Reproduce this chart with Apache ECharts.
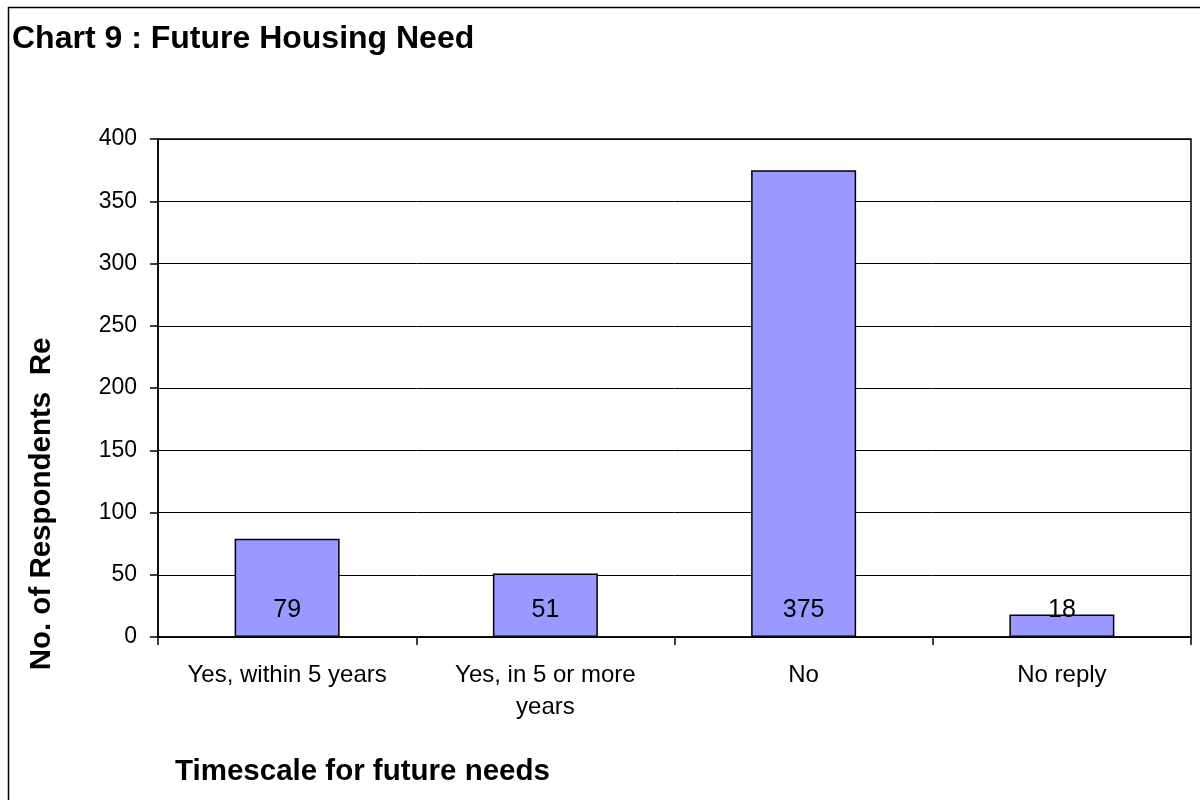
<!DOCTYPE html>
<html>
<head>
<meta charset="utf-8">
<style>
  html, body { margin: 0; padding: 0; background: #fff; }
  #chart { width: 1200px; height: 800px; }
</style>
<script src="https://cdn.jsdelivr.net/npm/echarts@6/dist/echarts.min.js"></script>
</head>
<body>
<div id="chart"></div>
<script>
// Survey responses: when will the household need housing?
const categories = ['Yes, within 5 years', 'Yes, in 5 or more\nyears', 'No', 'No reply'];
const respondents = [79, 51, 375, 18];
const yTicks = [0, 50, 100, 150, 200, 250, 300, 350, 400];

const font = '"Liberation Sans", Arial, sans-serif';
const chart = echarts.init(document.getElementById('chart'));

chart.setOption({
  animation: false,
  backgroundColor: '#ffffff',
  title: {
    text: 'Chart 9 : Future Housing Need',
    left: 7, top: 18,
    textStyle: { fontFamily: font, fontSize: 32, fontWeight: 'bold', color: '#000' }
  },
  graphic: [
    { // outer frame
      type: 'rect', silent: true, z: -1,
      shape: { x: 8.5, y: 7.5, width: 1300, height: 900 },
      style: { fill: 'none', stroke: '#000', lineWidth: 1.5 }
    },
    {
      type: 'text', x: 42, y: 504, rotation: Math.PI / 2,
      style: {
        text: 'No. of Respondents  Re', fontFamily: font, fontSize: 29.5, fontWeight: 'bold',
        fill: '#000', align: 'center', verticalAlign: 'middle'
      }
    },
    {
      type: 'text', x: 175, y: 772,
      style: {
        text: 'Timescale for future needs', fontFamily: font, fontSize: 29.5, fontWeight: 'bold',
        fill: '#000', align: 'left', verticalAlign: 'middle'
      }
    }
  ],
  grid: {
    left: 158, top: 139, right: 9, bottom: 163,
    show: true, borderColor: '#000', borderWidth: 1.5, backgroundColor: 'transparent'
  },
  xAxis: {
    type: 'category',
    data: categories,
    axisLine: { lineStyle: { color: '#000', width: 1.5 } },
    axisTick: { show: true, length: 8, lineStyle: { color: '#000', width: 1.5 } },
    axisLabel: { color: '#000', fontFamily: font, fontSize: 24, margin: 22, lineHeight: 32, interval: 0 }
  },
  yAxis: {
    type: 'value',
    min: yTicks[0], max: yTicks[yTicks.length - 1], interval: 50,
    axisLine: { show: true, lineStyle: { color: '#000', width: 1.5 } },
    axisTick: { show: true, length: 8, lineStyle: { color: '#000', width: 1.5 } },
    axisLabel: { color: '#000', fontFamily: font, fontSize: 23, margin: 21 },
    splitLine: { lineStyle: { color: '#000', width: 1 } }
  },
  series: [{
    type: 'bar',
    data: respondents,
    barWidth: 105,
    itemStyle: { color: '#9999FF', borderColor: '#000', borderWidth: 1.5 },
    label: {
      show: true, position: 'insideBottom', distance: 14,
      color: '#000', fontFamily: font, fontSize: 25
    }
  }]
});
</script>
</body>
</html>
